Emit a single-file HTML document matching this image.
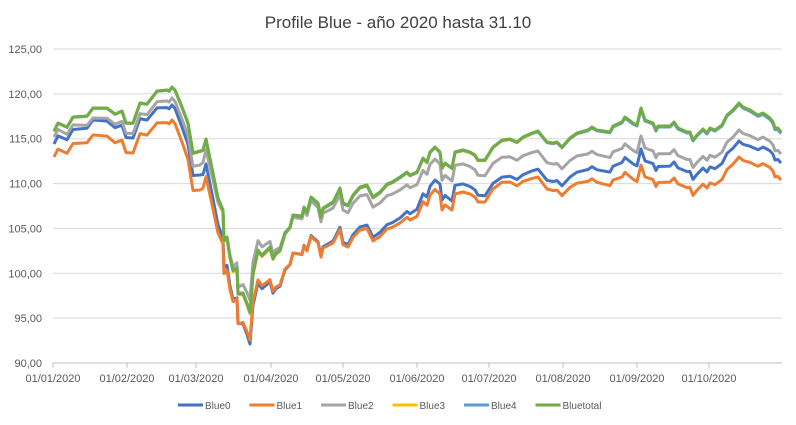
<!DOCTYPE html>
<html><head><meta charset="utf-8"><style>
body{margin:0;background:#fff;}
svg{display:block;font-family:"Liberation Sans",sans-serif;}
</style></head><body>
<svg id="c" width="796" height="425" viewBox="0 0 796 425">
<rect width="796" height="425" fill="#fff"/>
<text x="398" y="28" text-anchor="middle" font-size="17" fill="#404040">Profile Blue - año 2020 hasta 31.10</text>
<g id="grid" stroke="#d9d9d9" stroke-width="1"></g>
<g id="lab" font-size="11" fill="#595959"></g>
<g id="series" fill="none" stroke-width="3" stroke-linejoin="round"></g>
<g id="leg" font-size="10" fill="#595959"></g>
</svg>
<script>
var NS="http://www.w3.org/2000/svg";
function el(p,t,a,txt){var e=document.createElementNS(NS,t);for(var k in a)e.setAttribute(k,a[k]);if(txt!=null)e.textContent=txt;document.getElementById(p).appendChild(e);return e;}
var y0=49,y1=363;
for(var i=0;i<8;i++){var y=y0+(y1-y0)*i/7;var v=125-5*i;
 el('grid','line',{x1:53,x2:782,y1:y,y2:y,stroke:i==7?'#bfbfbf':'#d9d9d9'});
 el('lab','text',{x:42,y:y+4,'text-anchor':'end'},v.toFixed(2).replace('.',','));}
var tx=[53,127,196,271,343,417,489,563,637,709];
var tl=['01/01/2020','01/02/2020','01/03/2020','01/04/2020','01/05/2020','01/06/2020','01/07/2020','01/08/2020','01/09/2020','01/10/2020'];
for(var i=0;i<tx.length;i++){el('grid','line',{x1:tx[i],x2:tx[i],y1:363,y2:368,stroke:'#bfbfbf'});
 el('lab','text',{x:tx[i],y:382,'text-anchor':'middle'},tl[i]);}
var g=[[54,131],[58,123],[67,127],[73,117],[87,116],[93,108],[100,108],[107,108],[115,114],[122,111],[126,123],[133,123],[140,103],[147,104],[157,91],[167,90],[169,91],[172,87],[175,90],[182,107],[188,123],[193,153],[200,151],[203,150],[206,139],[213,173],[218,198],[223,210],[224,240],[227,237],[230,257],[233,270],[237,268],[238,293],[243,293],[247,303],[250,312],[253,273],[258,250],[262,255],[270,247],[273,258],[276,253],[280,250],[285,233],[290,227],[293,215],[302,216],[304,207],[307,212],[311,197],[318,203],[321,217],[323,208],[333,202],[340,188],[343,203],[348,205],[353,195],[360,187],[367,185],[373,197],[380,192],[387,184],[392,182],[400,177],[407,172],[410,175],[417,172],[423,158],[427,162],[430,152],[435,147],[440,152],[442,168],[445,163],[452,168],[455,152],[463,150],[470,152],[475,155],[478,160],[485,160],[488,155],[493,147],[502,140],[510,139],[517,142],[523,137],[532,133],[538,131],[547,142],[553,143],[557,142],[562,147],[570,138],[577,133],[588,130],[592,127],[597,130],[610,132],[613,126],[622,122],[625,117],[633,123],[637,125],[641,108],[645,120],[653,123],[656,130],[658,126],[670,126],[674,122],[678,128],[687,132],[690,132],[693,140],[697,135],[703,129],[707,133],[710,128],[715,130],[722,125],[727,115],[733,110],[739,103],[743,107],[750,110],[758,115],[763,113],[770,118],[773,122],[775,128],[778,128],[781,132]];
var kx=[54,93,172,200,250,293,400,440,500,641,739,781];
var offs={
 gray:[6,10,11,14,-12,2,13,12,17,28,27,22],
 blue:[13,12,18,24,32,38,41,32,37,41,38,31],
 orange:[26,27,33,39,28,38,46,42,42,57,54,48],
 yellow:[0.3,0.3,0.3,0.7,2,1,1,0.7,0.7,0.7,0.7,0.7],
 lblue:[0.3,0.3,0.3,0.3,0.7,0.7,0.7,0.3,0.3,1,1,1.7],
 green:[0,0,0,0,0,0,0,0,0,0,0,0]};
function off(a,x){if(x<=kx[0])return a[0];for(var i=1;i<kx.length;i++){if(x<=kx[i]){var t=(x-kx[i-1])/(kx[i]-kx[i-1]);return a[i-1]+t*(a[i]-a[i-1]);}}return a[a.length-1];}
var ser=[['blue','#4472C4'],['orange','#ED7D31'],['gray','#A5A5A5'],['yellow','#FFC000'],['lblue','#5B9BD5'],['green','#70AD47']];
ser.forEach(function(s){var pts=g.map(function(p){return p[0]+','+(p[1]+off(offs[s[0]],p[0])).toFixed(1);}).join(' ');
 el('series','polyline',{points:pts,stroke:s[1]});});
var names=['Blue0','Blue1','Blue2','Blue3','Blue4','Bluetotal'];
for(var i=0;i<6;i++){var x=178+i*71.5;el('leg','line',{x1:x,x2:x+25,y1:405,y2:405,stroke:ser[i][1],'stroke-width':3});
 el('leg','text',{x:x+27,y:409},names[i]);}
</script>
</body></html>
